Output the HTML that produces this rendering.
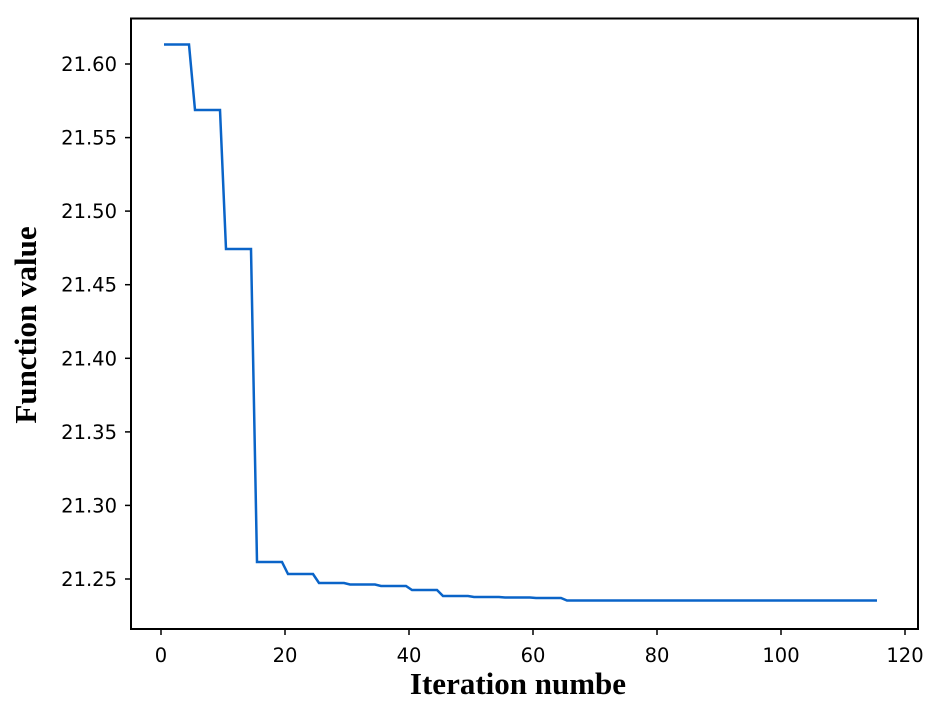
<!DOCTYPE html>
<html><head><style>body{margin:0;background:#fff}svg{display:block}</style></head><body>
<svg width="943" height="727" xmlns="http://www.w3.org/2000/svg" font-family="DejaVu Sans, Liberation Sans, sans-serif">
<rect width="943" height="727" fill="#fff"/>
<rect x="131" y="18.5" width="787" height="610.5" fill="none" stroke="#000" stroke-width="2"/>
<g stroke="#000" stroke-width="1.5">
<line x1="161" y1="629" x2="161" y2="635"/><line x1="285" y1="629" x2="285" y2="635"/><line x1="409" y1="629" x2="409" y2="635"/><line x1="533" y1="629" x2="533" y2="635"/><line x1="657" y1="629" x2="657" y2="635"/><line x1="781" y1="629" x2="781" y2="635"/><line x1="905" y1="629" x2="905" y2="635"/>
<line x1="125" y1="64" x2="131" y2="64"/><line x1="125" y1="137.6" x2="131" y2="137.6"/><line x1="125" y1="211.1" x2="131" y2="211.1"/><line x1="125" y1="284.7" x2="131" y2="284.7"/><line x1="125" y1="358.3" x2="131" y2="358.3"/><line x1="125" y1="431.9" x2="131" y2="431.9"/><line x1="125" y1="505.4" x2="131" y2="505.4"/><line x1="125" y1="579" x2="131" y2="579"/>
</g>
<g font-size="19.5" text-anchor="middle" fill="#000">
<text x="161" y="662">0</text><text x="285" y="662">20</text><text x="409" y="662">40</text><text x="533" y="662">60</text><text x="657" y="662">80</text><text x="781" y="662">100</text><text x="905" y="662">120</text>
</g>
<g font-size="19.5" text-anchor="end" fill="#000">
<text x="117" y="71">21.60</text><text x="117" y="144.6">21.55</text><text x="117" y="218.1">21.50</text><text x="117" y="291.7">21.45</text><text x="117" y="365.3">21.40</text><text x="117" y="438.9">21.35</text><text x="117" y="512.4">21.30</text><text x="117" y="586">21.25</text>
</g>
<text x="518" y="694" font-family="Liberation Serif, serif" font-weight="bold" font-size="31" text-anchor="middle">Iteration numbe</text>
<text transform="translate(36,325) rotate(-90)" font-family="Liberation Serif, serif" font-weight="bold" font-size="31" text-anchor="middle">Function value</text>
<polyline fill="none" stroke="#0a64c8" stroke-width="2.5" points="164,44.5 189,44.5 195,110 220,110 226,249 251,249 257,562 282,562 288,574 313,574 319,583 344,583 350,584.5 375,584.5 381,586 406,586 412,590 437,590 443,596 468,596 474,597 499,597 505,597.5 530,597.5 536,598 561,598 567,600.5 877,600.5"/>
</svg>
</body></html>
